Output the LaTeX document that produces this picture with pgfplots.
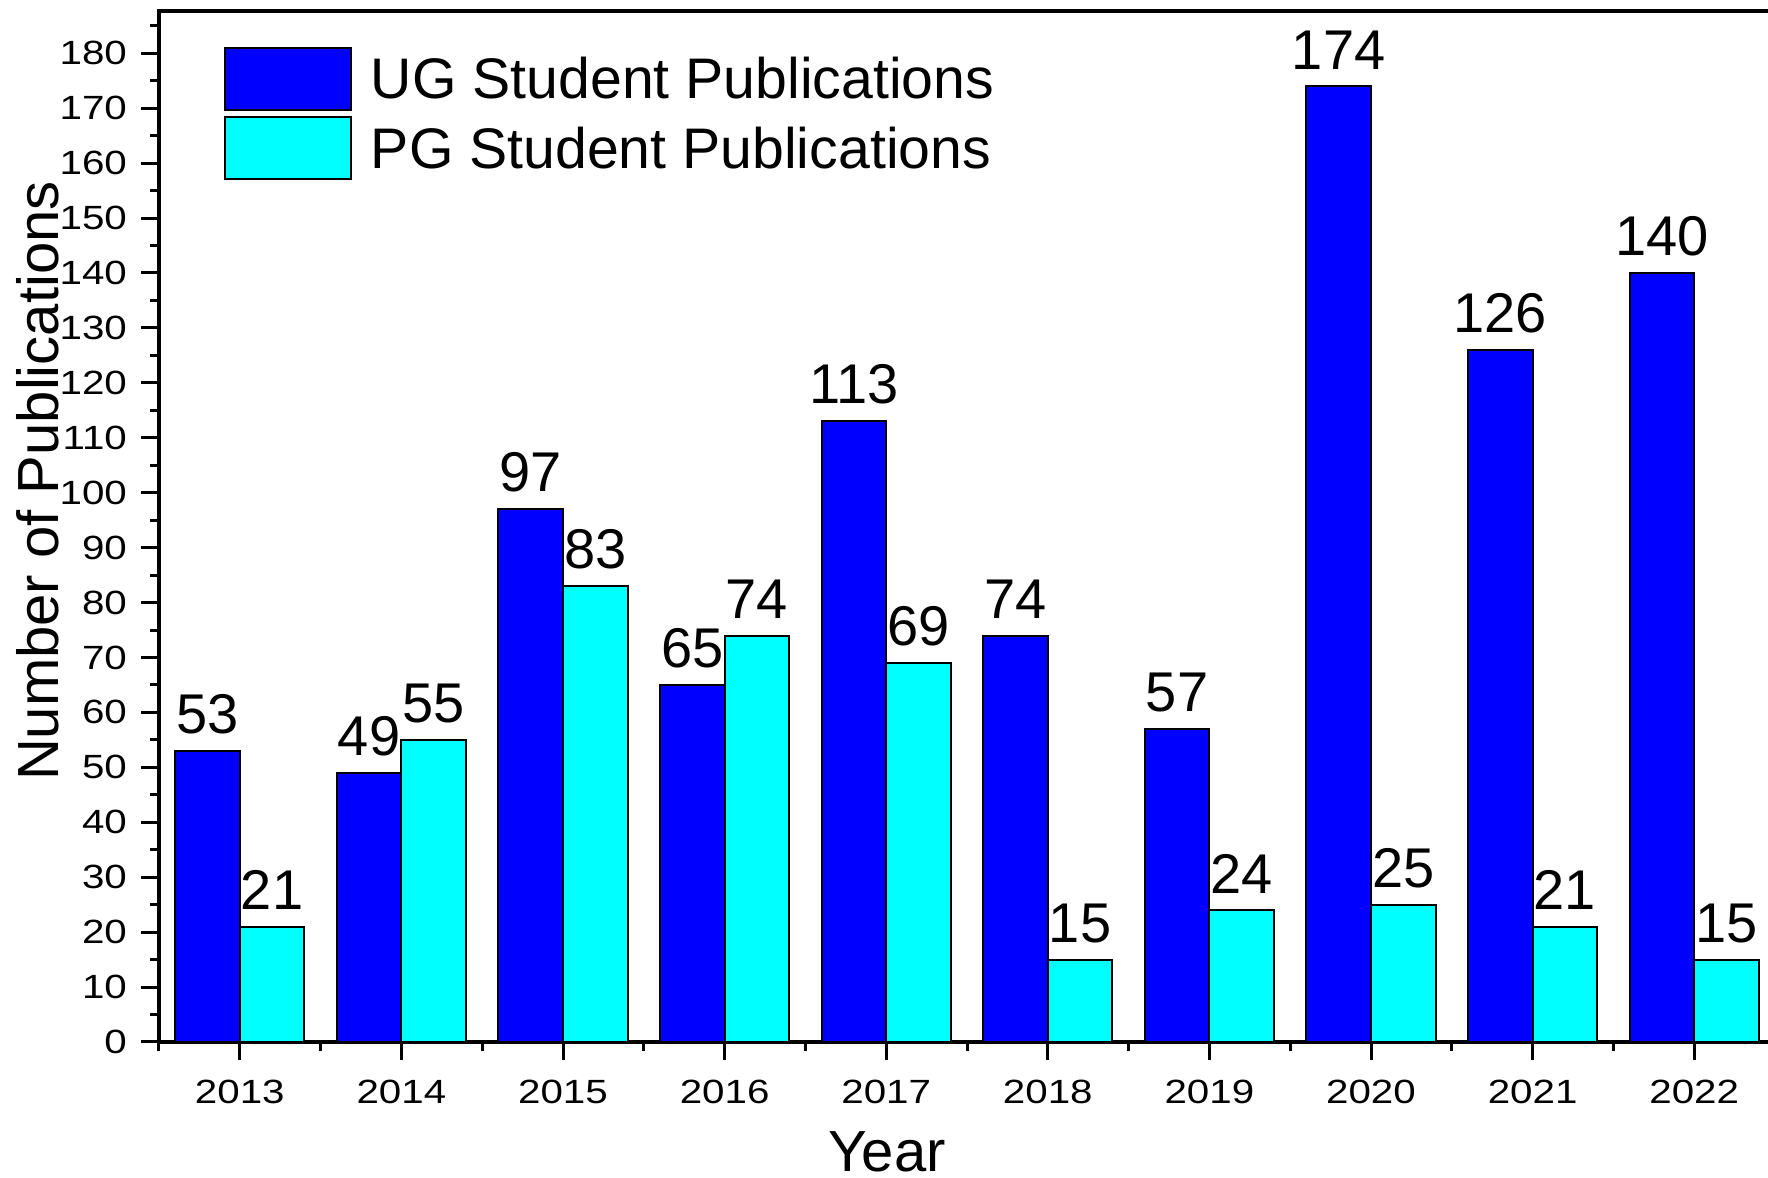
\documentclass[border=0pt]{standalone}
\usepackage{fontspec}
\setmainfont{Liberation Sans}
\newfontfamily\tickfont{Liberation Sans}[FakeStretch=1.2]
\usepackage{pgfplots}
\pgfplotsset{compat=1.18}
\definecolor{ugblue}{RGB}{0,0,255}
\definecolor{pgcyan}{RGB}{0,255,255}
\begin{document}
\begin{tikzpicture}
\begin{axis}[
  scale only axis, width=404pt, height=257.75pt,
  xmin=2012.5, xmax=2022.5, ymin=0, ymax=187.7,
  axis line style={line width=0.85pt},
  xtick={2013,2014,2015,2016,2017,2018,2019,2020,2021,2022},
  minor xtick={2012.5,2013.5,2014.5,2015.5,2016.5,2017.5,2018.5,2019.5,2020.5,2021.5,2022.5},
  ytick={0,10,...,180},
  minor ytick={5,15,...,185},
  tick align=outside, tick pos=left,
  major tick length=4.5pt, minor tick length=2.25pt,
  every tick/.style={line width=0.75pt, black},
  ticklabel style={font=\tickfont\fontsize{8.4}{10}\selectfont},
  xticklabel style={yshift=-1.4pt},
  /pgf/number format/assume math mode=true,
  /pgf/number format/1000 sep={},
  xlabel={Year}, ylabel={Number of Publications},
  label style={font=\fontsize{14.5}{17}\selectfont},
  xlabel style={at={(axis description cs:0.4505,-0.1067)}, anchor=center},
  ylabel style={at={(axis description cs:-0.0749,0.544)}, anchor=center},
  legend style={draw=none, fill=none, at={(axis description cs:0.0402,0.965)}, anchor=north west,
    inner sep=0pt, outer sep=0pt, row sep=0.9pt, column sep=2.75pt,
    font=\fontsize{14.3}{17}\selectfont, nodes={inner sep=2pt}},
  legend cell align=left,
  nodes near coords style={font=\fontsize{14}{16}\selectfont, anchor=south, inner sep=0pt, yshift=4pt, black},
]
\addplot[ybar, bar width=0.4, bar shift=-0.2, fill=ugblue, draw=black, line width=0.5pt,
  nodes near coords, nodes near coords style={xshift=-8.08pt},
  legend image code/.code={\draw[fill=ugblue,draw=black,line width=0.5pt] (0pt,-7.25pt) rectangle (31.5pt,8.25pt);}]
  coordinates {(2013,53) (2014,49) (2015,97) (2016,65) (2017,113) (2018,74) (2019,57) (2020,174) (2021,126) (2022,140)};
\addlegendentry{UG Student Publications}
\addplot[ybar, bar width=0.4, bar shift=0.2, fill=pgcyan, draw=black, line width=0.5pt,
  nodes near coords, nodes near coords style={xshift=8.08pt},
  legend image code/.code={\draw[fill=pgcyan,draw=black,line width=0.5pt] (0pt,-7.25pt) rectangle (31.5pt,8.25pt);}]
  coordinates {(2013,21) (2014,55) (2015,83) (2016,74) (2017,69) (2018,15) (2019,24) (2020,25) (2021,21) (2022,15)};
\addlegendentry{PG Student Publications}
\end{axis}
\pgfresetboundingbox
\useasboundingbox (-39.75pt,-34pt) rectangle (402.25pt,260.5pt);
\end{tikzpicture}
\end{document}
